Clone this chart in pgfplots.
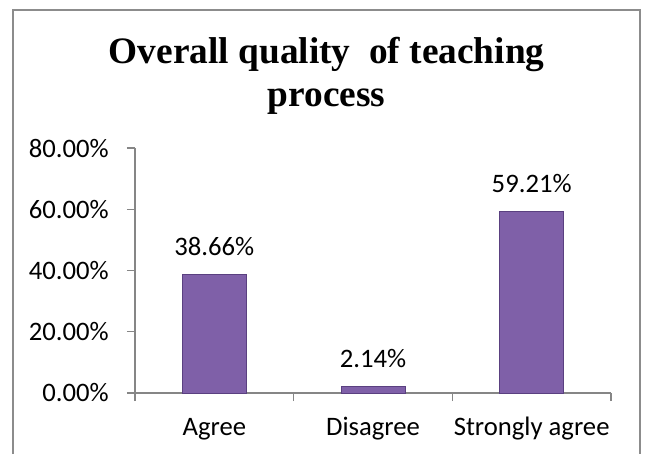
\documentclass[border=0pt]{standalone}
\usepackage{pgfplots}
\pgfplotsset{compat=1.18}
\usepackage{fontspec}
\setmainfont{Carlito}
\newfontfamily\titlefont{Liberation Serif}

\definecolor{barfill}{HTML}{7F60A8}
\definecolor{baredge}{HTML}{5A4080}
\definecolor{axisgray}{HTML}{868686}
\definecolor{framegray}{HTML}{8C8C8C}

\begin{document}
\begin{tikzpicture}[x=1pt,y=1pt]
	% page size of the reference, 1px = 0.75pt
	\path (0,0) rectangle (483.75,340.5);
	% outer frame (no bottom edge)
	\draw[framegray, line width=1.2pt] (9.75,0) -- (9.75,333) -- (480,333) -- (480,0);
	% title
	\node[anchor=base, font=\titlefont\bfseries\fontsize{28}{30}\selectfont] at (245,293.25) {Overall quality\ \ of teaching};
	\node[anchor=base, font=\titlefont\bfseries\fontsize{28}{30}\selectfont] at (245,261) {process};

	\begin{axis}[
		at={(101.25pt,45.75pt)}, anchor=south west,
		scale only axis,
		width=357pt, height=183.75pt,
		xmin=0.5, xmax=3.5, ymin=0, ymax=80,
		axis x line*=bottom, axis y line*=left,
		axis line style={draw=axisgray, line width=0.8pt},
		tick style={axisgray, line width=0.8pt},
		tick align=outside,
		major tick length=6pt, minor tick length=6pt,
		xtick={1,2,3},
		xticklabels={Agree,Disagree,Strongly agree},
		minor xtick={0.5,1.5,2.5,3.5},
		major x tick style={draw=none},
		ytick={0,20,40,60,80},
		yticklabels={0.00\%,20.00\%,40.00\%,60.00\%,80.00\%},
		tick label style={font=\fontsize{20}{24}\selectfont, text=black},
		xticklabel style={anchor=base, yshift=-25.5pt},
		yticklabel style={anchor=east, inner sep=0pt, xshift=-13.5pt},
		clip=false,
		ybar, bar width=48pt,
		point meta=explicit symbolic,
		nodes near coords,
		every node near coord/.append style={font=\fontsize{20}{24}\selectfont, text=black, anchor=base, inner sep=0pt, yshift=14.5pt},
	]
	\addplot[fill=barfill, draw=baredge, line width=0.6pt] coordinates {
		(1,38.66) [38.66\%]
		(2,2.14)  [2.14\%]
		(3,59.21) [59.21\%]
	};
	\end{axis}
\end{tikzpicture}
\end{document}
